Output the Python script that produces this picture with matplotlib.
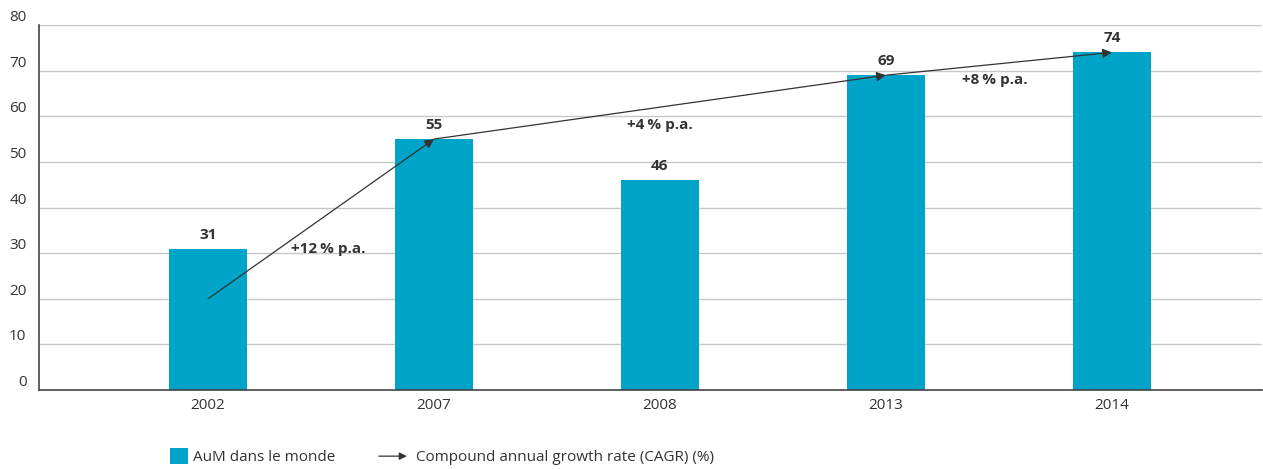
import matplotlib
matplotlib.use('agg')
import matplotlib.pyplot as plt
from matplotlib.patches import Patch, FancyArrowPatch
from matplotlib.legend_handler import HandlerBase

years = ['2002', '2007', '2008', '2013', '2014']
aum = [31, 55, 46, 69, 74]

# CAGR arrows: (start index, start value, end index, end value)
cagr_arrows = [(0, 20, 1, 55), (1, 55, 3, 69), (3, 69, 4, 74)]
cagr_labels = ['+12\u2009% p.a.', '+4\u2009% p.a.', '+8\u2009% p.a.']
cagr_label_pos = [(0.53, 31), (2.0, 58), (3.48, 68)]

bar_color = '#00A4C9'
text_color = '#333333'
fs = 11

plt.rcParams['font.family'] = ['Open Sans', 'DejaVu Sans']


class ArrowKey:
    pass


class ArrowHandler(HandlerBase):
    def create_artists(self, legend, orig_handle, xdescent, ydescent,
                       width, height, fontsize, trans):
        y = height / 2 - ydescent
        arr = FancyArrowPatch((-xdescent, y), (-xdescent + width, y),
                              arrowstyle='-|>', mutation_scale=11,
                              color=text_color, lw=0.9, transform=trans)
        return [arr]


fig = plt.figure(figsize=(12.63, 4.69), dpi=100)
ax = fig.add_axes([0.0309, 0.1684, 0.9683, 0.7783])

x = list(range(len(years)))
ax.bar(x, aum, width=0.345, color=bar_color, zorder=2)

for xi, v in zip(x, aum):
    ax.annotate(str(v), (xi, v), xytext=(0, 5), textcoords='offset points',
                ha='center', va='bottom', fontsize=fs, fontweight='bold',
                color=text_color)

for x0, y0, x1, y1 in cagr_arrows:
    ax.annotate('', xy=(x1, y1), xytext=(x0, y0),
                arrowprops=dict(arrowstyle='-|>', color=text_color, lw=0.9,
                                mutation_scale=14, shrinkA=0, shrinkB=0),
                zorder=4)

for lbl, (lx, ly) in zip(cagr_labels, cagr_label_pos):
    ax.text(lx, ly, lbl, ha='center', va='center', fontsize=fs,
            fontweight='bold', color=text_color, zorder=5)

ax.set_xlim(-0.748, 4.664)
ax.set_ylim(0, 80)
ax.set_yticks(range(0, 81, 10))
ax.set_xticks(x)
ax.set_xticklabels(years)
ax.tick_params(axis='both', length=0, labelsize=fs, colors=text_color)
ax.tick_params(axis='x', pad=6)
ax.tick_params(axis='y', pad=9)
for lab in ax.get_yticklabels():
    lab.set_va('bottom')

ax.grid(axis='y', color='#c8c8c8', lw=1, zorder=0)
ax.set_axisbelow(True)
for s in ['top', 'right']:
    ax.spines[s].set_visible(False)
for s in ['left', 'bottom']:
    ax.spines[s].set_color('#444444')
    ax.spines[s].set_linewidth(1.2)

leg_y = 0.026
leg1 = fig.legend([Patch(facecolor=bar_color, edgecolor='none')],
                  ['AuM dans le monde'],
                  loc='center left', bbox_to_anchor=(0.1346, leg_y),
                  frameon=False, fontsize=fs, handlelength=1.2,
                  handleheight=1.2, handletextpad=0.3, borderpad=0,
                  borderaxespad=0, labelcolor=text_color)
fig.legend([ArrowKey()], ['Compound annual growth rate (CAGR) (%)'],
           handler_map={ArrowKey: ArrowHandler()},
           loc='center left', bbox_to_anchor=(0.2977, leg_y),
           frameon=False, fontsize=fs, handlelength=2.2, handleheight=1.2,
           handletextpad=0.4, borderpad=0, borderaxespad=0,
           labelcolor=text_color)

fig.savefig('out.png', dpi=100)
